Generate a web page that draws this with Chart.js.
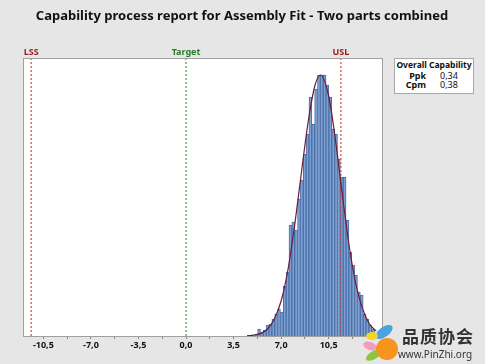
<!DOCTYPE html>
<html lang="en">
<head>
<meta charset="UTF-8">
<title>Capability process report</title>
<script src="https://cdn.jsdelivr.net/npm/chart.js"></script>
<style>
  html, body { margin: 0; padding: 0; background: #e6e6e6; }
  .wrap { position: relative; width: 485px; height: 364px; font-family: "Noto Sans", sans-serif; }
  .stats {
    position: absolute; left: 394px; top: 58px; width: 78px; height: 34px;
    background: #fff; border: 1px solid #a8a8a8; font-size: 8.5px; font-weight: bold; color: #111;
  }
  .stats .head { text-align: center; line-height: 11px; }
  .stats .row { display: flex; line-height: 8.5px; font-size: 9px; }
  .stats .row.first { margin-top: 2px; }
  .stats .row span:first-child { width: 31px; text-align: right; }
  .stats .row span:last-child { margin-left: 14px; font-weight: normal; }
  .logo { position: absolute; left: 362px; top: 322px; width: 123px; height: 42px; }
  .logo .cn { position: absolute; left: 40px; top: 1px; font-family: "Noto Sans CJK SC"; font-weight: bold; font-size: 17px; color: #333; letter-spacing: 1px; }
  .logo .url { position: absolute; left: 36px; top: 25px; font-size: 10px; color: #333; }
</style>
</head>
<body>
<div class="wrap">
  <canvas id="capChart" width="485" height="364"></canvas>
  <div class="stats">
    <div class="head">Overall Capability</div>
    <div class="row first"><span>Ppk</span><span>0,34</span></div>
    <div class="row"><span>Cpm</span><span>0,38</span></div>
  </div>
  <div class="logo">
    <svg width="40" height="42" style="position:absolute;left:0;top:0">
      <ellipse cx="22" cy="10" rx="10" ry="5" fill="#4aa3df" transform="rotate(-35 22 10)"/>
      <ellipse cx="10" cy="14" rx="6" ry="4" fill="#f5d327"/>
      <ellipse cx="8" cy="24" rx="7" ry="4" fill="#f29ac0" transform="rotate(20 8 24)"/>
      <ellipse cx="12" cy="33" rx="9" ry="4" fill="#8cc63f" transform="rotate(-30 12 33)"/>
      <circle cx="25" cy="27" r="11" fill="#f7941d"/>
    </svg>
    <div class="cn">品质协会</div>
    <div class="url">www.PinZhi.org</div>
  </div>
</div>

<script>
// histogram bins (heights)
const binStart = 5.06;
const binWidth = 0.21;
const binCounts = [2, 7, 4, 6, 11, 12, 17, 22, 27, 24, 50, 64, 111, 114, 106, 137, 156, 182, 202, 239,
                   212, 247, 261, 261, 261, 251, 239, 207, 202, 177, 159, 159, 116, 84, 71, 61, 44, 41, 22, 17, 11, 7];

// fitted curve
const curveX = [4.5, 5.0, 5.5, 6.0, 6.5, 7.0, 7.5, 8.0, 8.5, 9.0, 9.5, 9.9, 10.5, 11.0, 11.5, 12.0, 12.5, 13.0, 13.5, 14.0];
const curveY = [0.3, 0.9, 2.6, 7, 17, 35, 66, 111, 164, 215, 251, 261, 240, 196, 142, 91, 52, 27, 12, 5];

// spec limits
const specNames = ['LSS', 'Target', 'USL'];
const specValues = [-11.4, 0, 11.4];
const specLineColors = ['#d9473f', '#3b9b4b', '#d9473f'];
const specTextColors = ['#9b1b1b', '#2a7a2a', '#9b1b1b'];

// axis ticks
const majorTicks = [-10.5, -7.0, -3.5, 0.0, 3.5, 7.0, 10.5];
const tickLabels = ['-10,5', '-7,0', '-3,5', '0,0', '3,5', '7,0', '10,5'];
const minorTicks = [-8.75, -5.25, -1.75, 1.75, 5.25, 8.75, 12.25];

const xMin = -12.0, xMax = 14.5, yMax = 278;

let barPoints = binCounts.map((c, i) => ({ x: binStart + binWidth * (i + 0.5), y: c }));
let curvePoints = curveX.map((x, i) => ({ x: x, y: curveY[i] }));

let datasets = [{
  type: 'bar',
  data: barPoints,
  backgroundColor: '#7ea1d2',
  borderColor: '#4a6fa8',
  borderWidth: 1,
  barPercentage: 1,
  categoryPercentage: 1,
  order: 3
}, {
  type: 'line',
  data: curvePoints,
  borderColor: '#6e1a35',
  borderWidth: 1.2,
  pointRadius: 0,
  tension: 0.4,
  cubicInterpolationMode: 'monotone',
  order: 1
}];

specValues.forEach((v, i) => {
  datasets.push({
    type: 'line',
    data: [{ x: v, y: 0 }, { x: v, y: yMax }],
    borderColor: specLineColors[i],
    borderWidth: 1.2,
    borderDash: [2, 2],
    pointRadius: 0,
    order: 2
  });
});

// background, plot frame, title and spec labels
const decor = {
  id: 'decor',
  beforeDraw(chart) {
    const c = chart.ctx, xs = chart.scales.x, ys = chart.scales.y;
    c.save();
    c.fillStyle = '#e6e6e6';
    c.fillRect(0, 0, chart.width, chart.height);
    c.fillStyle = '#ffffff';
    c.fillRect(xs.left, ys.top, xs.right - xs.left, ys.bottom - ys.top);
    c.restore();
  },
  afterDraw(chart) {
    const c = chart.ctx, xs = chart.scales.x, ys = chart.scales.y;
    c.save();
    c.strokeStyle = '#a0a0a0';
    c.lineWidth = 1;
    c.strokeRect(Math.round(xs.left) + 0.5, Math.round(ys.top) + 0.5,
                 Math.round(xs.right - xs.left) - 1, Math.round(ys.bottom - ys.top));

    c.fillStyle = '#111';
    c.font = 'bold 13px "Noto Sans"';
    c.textAlign = 'center';
    c.textBaseline = 'middle';
    c.fillText('Capability process report for Assembly Fit - Two parts combined', 242, 16);

    c.font = 'bold 9px "Noto Sans"';
    specNames.forEach((n, i) => {
      c.fillStyle = specTextColors[i];
      c.fillText(n, xs.getPixelForValue(specValues[i]), 52);
    });
    c.restore();
  }
};

new Chart(document.getElementById('capChart'), {
  data: { datasets: datasets },
  options: {
    responsive: false,
    animation: false,
    layout: { padding: { left: 23, right: 102, top: 58, bottom: 0 } },
    plugins: { legend: { display: false }, tooltip: { enabled: false } },
    scales: {
      x: {
        type: 'linear',
        offset: false,
        min: xMin,
        max: xMax,
        afterFit: s => { s.height = 28; s.paddingLeft = 0; s.paddingRight = 0; },
        afterBuildTicks: s => {
          s.ticks = majorTicks.concat(minorTicks).sort((p, q) => p - q).map(v => ({ value: v }));
        },
        ticks: {
          autoSkip: false,
          maxRotation: 0,
          padding: 1,
          color: '#111',
          font: { family: 'Noto Sans', size: 9, weight: 'bold' },
          callback: v => {
            let k = majorTicks.indexOf(v);
            return k >= 0 ? tickLabels[k] : '';
          }
        },
        grid: { drawOnChartArea: false, offset: false, tickLength: 3, color: '#888' },
        border: { display: false }
      },
      y: {
        display: false,
        min: 0,
        max: yMax
      }
    }
  },
  plugins: [decor]
});
</script>
</body>
</html>
